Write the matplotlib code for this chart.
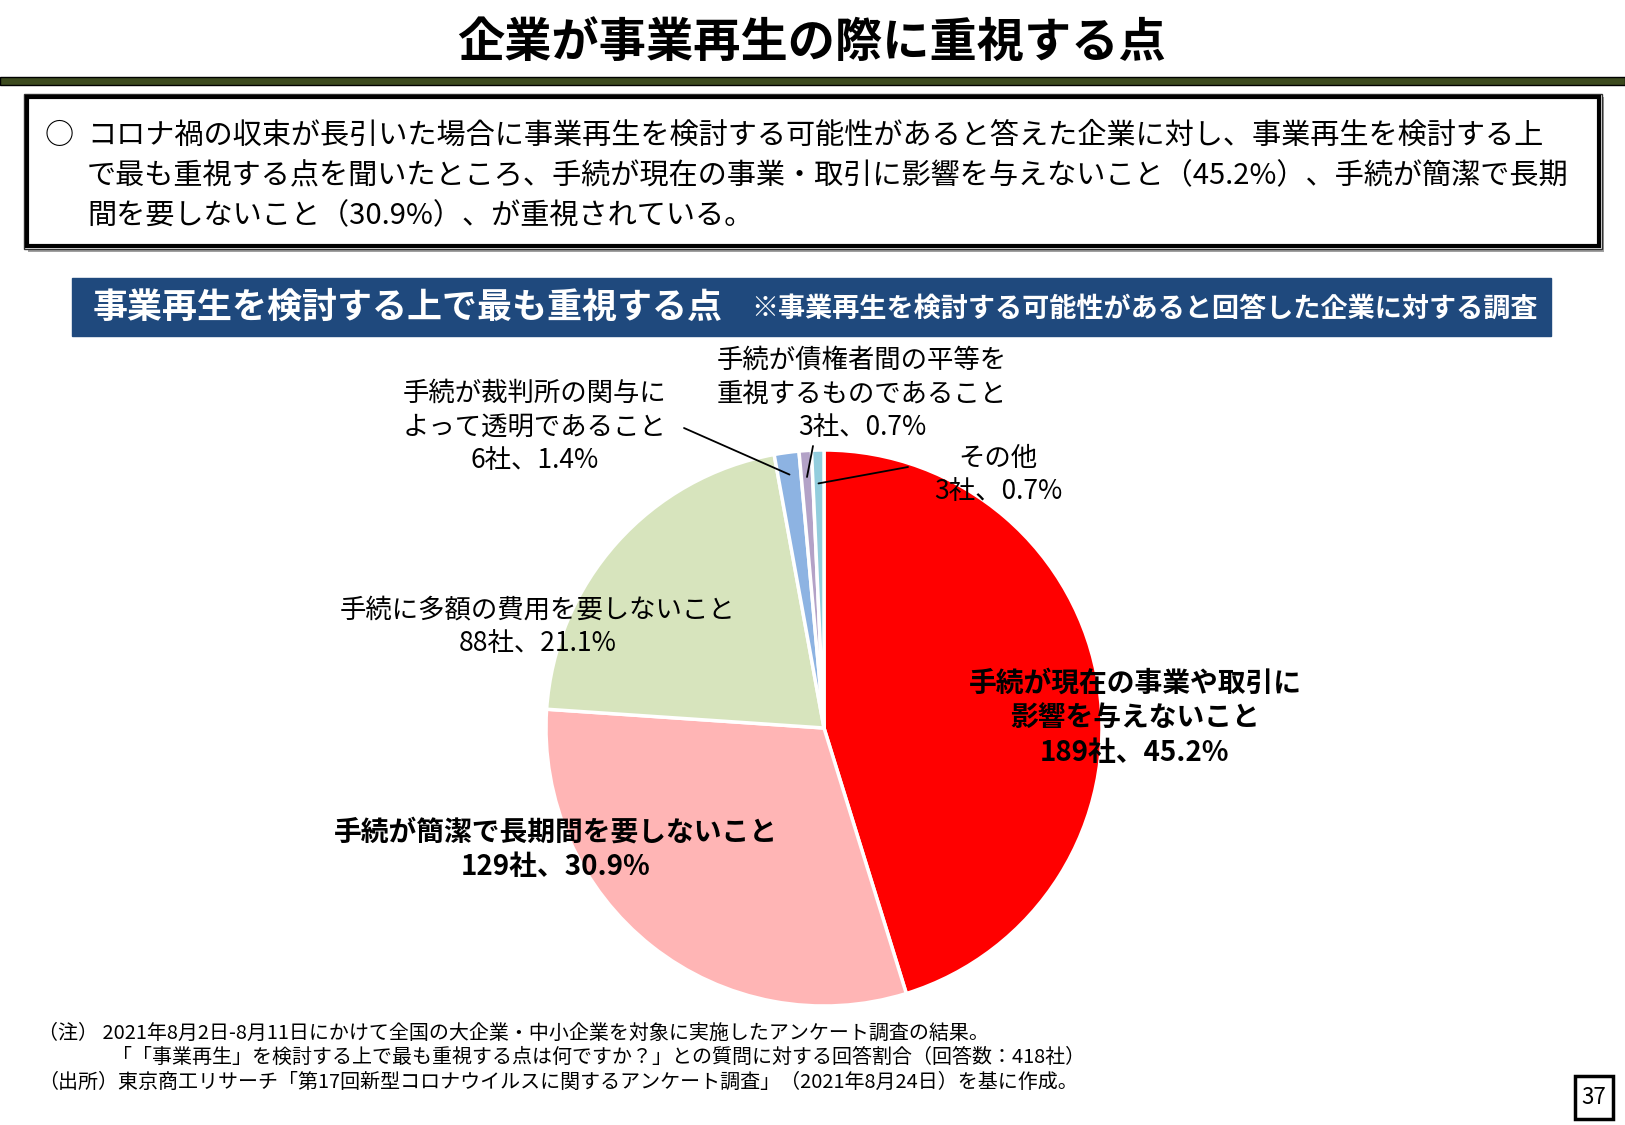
import matplotlib
matplotlib.use("Agg")
import numpy as np
from matplotlib import pyplot as plt
from matplotlib.patches import Rectangle

plt.rcParams['font.family'] = ['Noto Sans CJK JP', 'DejaVu Sans']

# data
names = ["手続が現在の事業や取引に\n影響を与えないこと",
         "手続が簡潔で長期間を要しないこと",
         "手続に多額の費用を要しないこと",
         "手続が裁判所の関与に\nよって透明であること",
         "手続が債権者間の平等を\n重視するものであること",
         "その他"]
counts = [189, 129, 88, 6, 3, 3]
pcts = [45.2, 30.9, 21.1, 1.4, 0.7, 0.7]
colors = ["#FF0000", "#FFB5B5", "#D7E4BD", "#8DB3E2", "#B3A2C7", "#93CDDD"]

title = "企業が事業再生の際に重視する点"
summary = ["コロナ禍の収束が長引いた場合に事業再生を検討する可能性があると答えた企業に対し、事業再生を検討する上",
           "で最も重視する点を聞いたところ、手続が現在の事業・取引に影響を与えないこと（45.2%）、手続が簡潔で長期",
           "間を要しないこと（30.9%）、が重視されている。"]
banner_main = "事業再生を検討する上で最も重視する点"
banner_sub = "※事業再生を検討する可能性があると回答した企業に対する調査"
notes = ["（注） 2021年8月2日-8月11日にかけて全国の大企業・中小企業を対象に実施したアンケート調査の結果。",
         "「「事業再生」を検討する上で最も重視する点は何ですか？」との質問に対する回答割合（回答数：418社）",
         "（出所）東京商工リサーチ「第17回新型コロナウイルスに関するアンケート調査」（2021年8月24日）を基に作成。"]
page_no = "37"

W, H = 1625, 1125
fig = plt.figure(figsize=(W / 100, H / 100), dpi=100)

# page layer in pixel coords
bg = fig.add_axes([0, 0, 1, 1])
bg.set_xlim(0, W)
bg.set_ylim(H, 0)
bg.axis('off')

bg.text(812, 43, title, ha='center', va='center', fontsize=34, fontweight='bold')
bg.add_patch(Rectangle((0, 77), W, 8, facecolor="#3C4A1E", edgecolor="black", lw=1))

# summary box: thin outer line, thick inner line, grey shadow
bg.add_patch(Rectangle((28, 97), 1576, 155, facecolor="#A0A0A0", edgecolor='none'))
bg.add_patch(Rectangle((24, 94), 1578, 155, facecolor="white", edgecolor="#333333", lw=1))
bg.add_patch(Rectangle((27, 97), 1572, 149, facecolor="white", edgecolor="black", lw=3))
bg.text(45, 136, "○", ha='left', va='center', fontsize=21)
for i, line in enumerate(summary):
    bg.text(87, 136 + i * 40, line, ha='left', va='center', fontsize=21)

bg.add_patch(Rectangle((72, 278), 1479, 58, color="#1F497D"))
bg.text(93, 307, banner_main, ha='left', va='center', fontsize=25.2,
        fontweight='bold', color='white')
bg.text(751, 309, banner_sub, ha='left', va='center', fontsize=19.5,
        fontweight='bold', color='white')

for i, line in enumerate(notes):
    x = 112 if i == 1 else 38
    bg.text(x, 1033 + i * 24.5, line, ha='left', va='center', fontsize=14.4)

bg.add_patch(Rectangle((1575, 1076), 38, 43, facecolor='white', edgecolor='black', lw=2.5))
bg.text(1594, 1098, page_no, ha='center', va='center', fontsize=16)

# pie: center (824, 728) px, radius 278 px
cx, cy, r = 824, 728, 278
ax = fig.add_axes([(cx - r) / W, (H - cy - r) / H, 2 * r / W, 2 * r / H])
wedges, _ = ax.pie(counts, colors=colors, startangle=90, counterclock=False,
                   wedgeprops=dict(edgecolor='white', linewidth=2.5))
ax.set_xlim(-1, 1)
ax.set_ylim(-1, 1)
ax.axis('off')

def px(x, y):
    return ((x - cx) / r, (cy - y) / r)

label_pos = [px(1135, 718), px(556, 850), px(538, 627),
             px(535, 427), px(862, 394), px(998, 475)]
bold = [True, True, False, False, False, False]
for i, (n, c, p) in enumerate(zip(names, counts, pcts)):
    ax.text(*label_pos[i], f"{n}\n{c}社、{p}%", ha='center', va='center',
            fontsize=20 if bold[i] else 19, fontweight='bold' if bold[i] else 'normal',
            linespacing=1.3, color='black')

# leader lines for small slices
line_start = {3: px(684, 428), 4: px(813, 446), 5: px(908, 467)}
line_r = {3: 0.92, 4: 0.905, 5: 0.88}
for i, start in line_start.items():
    w = wedges[i]
    ang = np.deg2rad((w.theta1 + w.theta2) / 2)
    end = (line_r[i] * np.cos(ang), line_r[i] * np.sin(ang))
    ax.annotate('', xy=end, xytext=start,
                arrowprops=dict(arrowstyle='-', color='black', lw=1.3,
                                shrinkA=0, shrinkB=0))

fig.savefig("out.png", dpi=100)
